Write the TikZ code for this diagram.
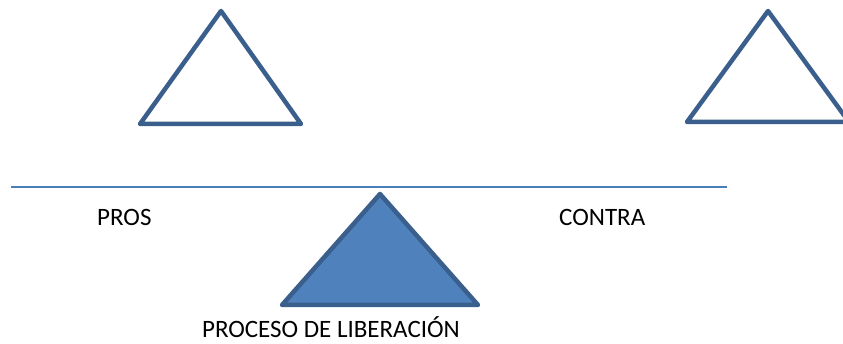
\documentclass[tikz,border=0pt]{standalone}
\usepackage{fontspec}
\setmainfont{Carlito}
\usepackage{tikz}
\usetikzlibrary{positioning}
\definecolor{edgeblue}{HTML}{3B5F8C}
\definecolor{fillblue}{HTML}{4F81BD}
\definecolor{beamblue}{HTML}{4A7EBB}

\begin{document}
\begin{tikzpicture}[
  x=1pt, y=-1pt,
  font=\fontsize{25}{29}\selectfont,
  tri/.style={draw=edgeblue, line width=4.5pt, line join=round},
  beam/.style={draw=beamblue, line width=1.6pt},
  lab/.style={anchor=base west, inner sep=0pt},
]
\useasboundingbox (0,0) rectangle (843,344);
\clip (0,0) rectangle (843,344);
% Pans on top.
\coordinate (LA) at (221,11);
\coordinate (LB) at (140,124);
\coordinate (LC) at (301,124);
\draw[tri, fill=white] (LA) -- (LB) -- (LC) -- cycle;
\coordinate (RA) at (768,11);
\coordinate (RB) at (687,122);
\coordinate (RC) at (849,122);
\draw[tri, fill=white] (RA) -- (RB) -- (RC) -- cycle;
% Beam and pivot.
\coordinate (BL) at (11,187);
\coordinate (BR) at (727,187);
\draw[beam] (BL) -- (BR);
\coordinate (PA) at (380,194);
\coordinate (PB) at (282,305);
\coordinate (PC) at (478,305);
\draw[tri, fill=fillblue] (PA) -- (PB) -- (PC) -- cycle;
% Labels.
\node[lab] (pros) at (97,226) {PROS};
\node[lab] (contra) at (559,226) {CONTRA};
\node[anchor=base, inner sep=0pt] (proceso) at (331,338) {PROCESO DE LIBERACIÓN};
\end{tikzpicture}
\end{document}
